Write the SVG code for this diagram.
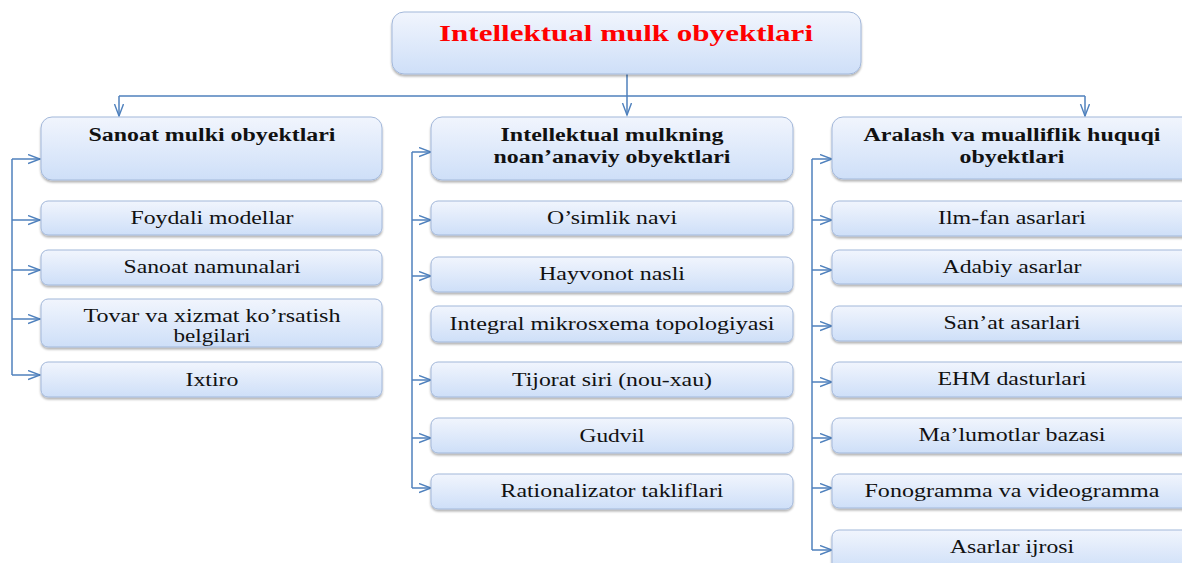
<svg xmlns="http://www.w3.org/2000/svg" width="1182" height="563" viewBox="0 0 1182 563">
<defs>
<linearGradient id="g" x1="0" y1="0" x2="0" y2="1">
<stop offset="0" stop-color="#f1f5fd"/>
<stop offset="1" stop-color="#cedff8"/>
</linearGradient>
<filter id="sh" x="-5%" y="-10%" width="110%" height="140%">
<feDropShadow dx="0" dy="2" stdDeviation="1.2" flood-color="#000" flood-opacity="0.3"/>
</filter>
<marker id="ar" markerUnits="userSpaceOnUse" markerWidth="14" markerHeight="12" refX="12" refY="5" orient="auto">
<path d="M0,0.5 L12,5 L0,9.5" fill="none" stroke="#4f81bd" stroke-width="1.4"/>
</marker>
</defs>
<style>
.b{fill:url(#g);stroke:#a3b8da;stroke-width:1;filter:url(#sh)}
.c{fill:none;stroke:#4f81bd;stroke-width:1.5}
text{font-family:'Liberation Serif','DejaVu Serif',serif}
.t{font-size:18px;fill:#111;text-anchor:middle}
.h{font-size:18px;font-weight:bold;fill:#111;text-anchor:middle}
.r{font-size:24px;font-weight:bold;fill:#ff0000;text-anchor:middle}
</style>
<rect width="1182" height="563" fill="#fff"/>
<g id="connectors">
<path class="c" d="M627,74 V115" marker-end="url(#ar)"/>
<path class="c" d="M119,96 H1085"/>
<path class="c" d="M119,96 V116" marker-end="url(#ar)"/>
<path class="c" d="M1085,96 V116" marker-end="url(#ar)"/>
<path class="c" d="M12,159 V375"/>
<path class="c" d="M12,159 H40" marker-end="url(#ar)"/>
<path class="c" d="M12,220 H40" marker-end="url(#ar)"/>
<path class="c" d="M12,270 H40" marker-end="url(#ar)"/>
<path class="c" d="M12,319 H40" marker-end="url(#ar)"/>
<path class="c" d="M12,375 H40" marker-end="url(#ar)"/>
<path class="c" d="M412,152 V488"/>
<path class="c" d="M412,152 H431" marker-end="url(#ar)"/>
<path class="c" d="M412,220 H431" marker-end="url(#ar)"/>
<path class="c" d="M412,276 H431" marker-end="url(#ar)"/>
<path class="c" d="M412,380 H431" marker-end="url(#ar)"/>
<path class="c" d="M412,438 H431" marker-end="url(#ar)"/>
<path class="c" d="M412,488 H431" marker-end="url(#ar)"/>
<path class="c" d="M812,159 V550"/>
<path class="c" d="M812,159 H832" marker-end="url(#ar)"/>
<path class="c" d="M812,220 H832" marker-end="url(#ar)"/>
<path class="c" d="M812,270 H832" marker-end="url(#ar)"/>
<path class="c" d="M812,326 H832" marker-end="url(#ar)"/>
<path class="c" d="M812,382 H832" marker-end="url(#ar)"/>
<path class="c" d="M812,438 H832" marker-end="url(#ar)"/>
<path class="c" d="M812,488 H832" marker-end="url(#ar)"/>
<path class="c" d="M812,550 H832" marker-end="url(#ar)"/>
</g>
<g id="root"><rect class="b" x="392" y="12" width="469" height="62" rx="12"/><text class="r" x="626" y="41" textLength="374" lengthAdjust="spacingAndGlyphs">Intellektual mulk obyektlari</text></g>
<g id="sanoat"><rect class="b" x="41" y="117" width="341" height="63" rx="11"/><text class="h" x="212" y="141" textLength="247" lengthAdjust="spacingAndGlyphs">Sanoat mulki obyektlari</text></g>
<g id="foydali"><rect class="b" x="41" y="201" width="341" height="34" rx="7"/><text class="t" x="212" y="224" textLength="163" lengthAdjust="spacingAndGlyphs">Foydali modellar</text></g>
<g id="namunalari"><rect class="b" x="41" y="250" width="341" height="35" rx="7"/><text class="t" x="212" y="273" textLength="177" lengthAdjust="spacingAndGlyphs">Sanoat namunalari</text></g>
<g id="tovar"><rect class="b" x="41" y="299" width="341" height="48" rx="7"/><text class="t" x="212" y="322" textLength="257" lengthAdjust="spacingAndGlyphs">Tovar va xizmat ko’rsatish</text><text class="t" x="212" y="342" textLength="77" lengthAdjust="spacingAndGlyphs">belgilari</text></g>
<g id="ixtiro"><rect class="b" x="41" y="362" width="341" height="35" rx="7"/><text class="t" x="212" y="386" textLength="53" lengthAdjust="spacingAndGlyphs">Ixtiro</text></g>
<g id="noananaviy"><rect class="b" x="431" y="117" width="362" height="63" rx="11"/><text class="h" x="612" y="141" textLength="223" lengthAdjust="spacingAndGlyphs">Intellektual mulkning</text><text class="h" x="612" y="163" textLength="237" lengthAdjust="spacingAndGlyphs">noan’anaviy obyektlari</text></g>
<g id="osimlik"><rect class="b" x="431" y="201" width="362" height="34" rx="7"/><text class="t" x="612" y="224" textLength="130" lengthAdjust="spacingAndGlyphs">O’simlik navi</text></g>
<g id="hayvonot"><rect class="b" x="431" y="257" width="362" height="35" rx="7"/><text class="t" x="612" y="280" textLength="146" lengthAdjust="spacingAndGlyphs">Hayvonot nasli</text></g>
<g id="integral"><rect class="b" x="431" y="306" width="362" height="36" rx="7"/><text class="t" x="612" y="330" textLength="325" lengthAdjust="spacingAndGlyphs">Integral mikrosxema topologiyasi</text></g>
<g id="tijorat"><rect class="b" x="431" y="362" width="362" height="35" rx="7"/><text class="t" x="612" y="386" textLength="200" lengthAdjust="spacingAndGlyphs">Tijorat siri (nou-xau)</text></g>
<g id="gudvil"><rect class="b" x="431" y="418" width="362" height="35" rx="7"/><text class="t" x="612" y="442" textLength="65" lengthAdjust="spacingAndGlyphs">Gudvil</text></g>
<g id="rationalizator"><rect class="b" x="431" y="474" width="362" height="35" rx="7"/><text class="t" x="612" y="497" textLength="223" lengthAdjust="spacingAndGlyphs">Rationalizator takliflari</text></g>
<g id="aralash"><rect class="b" x="832" y="117" width="362" height="62" rx="11"/><text class="h" x="1012" y="141" textLength="297" lengthAdjust="spacingAndGlyphs">Aralash va mualliflik huquqi</text><text class="h" x="1012" y="163" textLength="105" lengthAdjust="spacingAndGlyphs">obyektlari</text></g>
<g id="ilmfan"><rect class="b" x="832" y="201" width="362" height="35" rx="7"/><text class="t" x="1012" y="224" textLength="148" lengthAdjust="spacingAndGlyphs">Ilm-fan asarlari</text></g>
<g id="adabiy"><rect class="b" x="832" y="250" width="362" height="34" rx="7"/><text class="t" x="1012" y="273" textLength="139" lengthAdjust="spacingAndGlyphs">Adabiy asarlar</text></g>
<g id="sanat"><rect class="b" x="832" y="306" width="362" height="35" rx="7"/><text class="t" x="1012" y="329" textLength="137" lengthAdjust="spacingAndGlyphs">San’at asarlari</text></g>
<g id="ehm"><rect class="b" x="832" y="362" width="362" height="35" rx="7"/><text class="t" x="1012" y="385" textLength="149" lengthAdjust="spacingAndGlyphs">EHM dasturlari</text></g>
<g id="malumotlar"><rect class="b" x="832" y="418" width="362" height="35" rx="7"/><text class="t" x="1012" y="441" textLength="187" lengthAdjust="spacingAndGlyphs">Ma’lumotlar bazasi</text></g>
<g id="fonogramma"><rect class="b" x="832" y="474" width="362" height="34" rx="7"/><text class="t" x="1012" y="497" textLength="295" lengthAdjust="spacingAndGlyphs">Fonogramma va videogramma</text></g>
<g id="ijrosi"><rect class="b" x="832" y="530" width="362" height="40" rx="7"/><text class="t" x="1012" y="553" textLength="124" lengthAdjust="spacingAndGlyphs">Asarlar ijrosi</text></g>
</svg>
